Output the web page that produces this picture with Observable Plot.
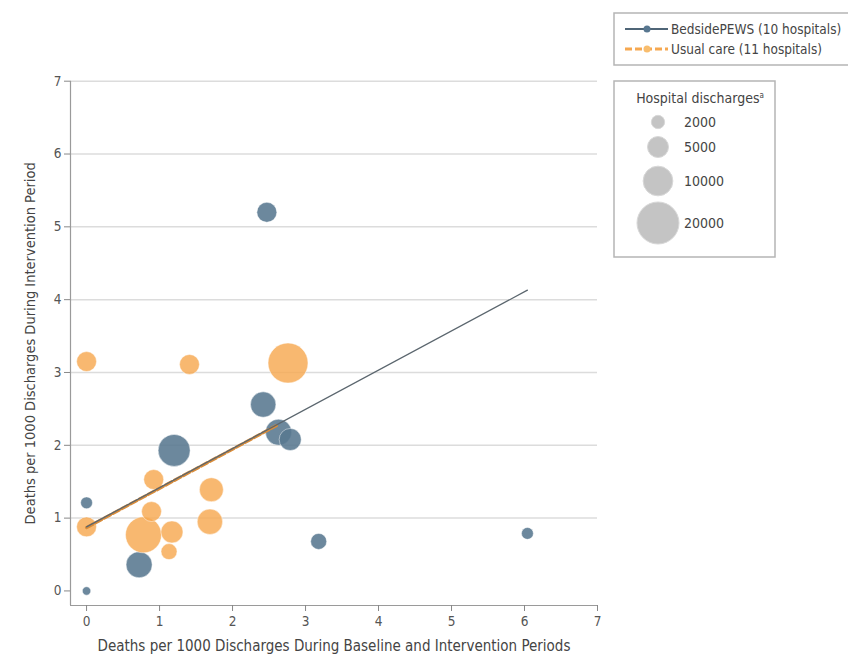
<!DOCTYPE html>
<html>
<head>
<meta charset="utf-8">
<script src="https://cdn.jsdelivr.net/npm/d3@7"></script>
<script src="https://cdn.jsdelivr.net/npm/@observablehq/plot@0.6"></script>
<style>
  html, body { margin: 0; padding: 0; background: #fff; }
  #wrap { position: relative; width: 848px; height: 656px; overflow: hidden; }
  #wrap svg { position: absolute; left: 0; top: 0; }
</style>
</head>
<body>
<div id="wrap"></div>
<script>
// ---- Data ----
const pewsX = [0, 0, 0.72, 1.2, 2.47, 2.42, 2.63, 2.79, 3.18, 6.04];
const pewsY = [0, 1.21, 0.36, 1.93, 5.2, 2.56, 2.18, 2.08, 0.68, 0.79];
const pewsN = [800, 1600, 7700, 11600, 4500, 7300, 7700, 5500, 2900, 1600];

const usualX = [0, 0, 1.41, 2.76, 0.92, 0.78, 0.89, 1.17, 1.13, 1.71, 1.69];
const usualY = [3.15, 0.88, 3.11, 3.13, 1.53, 0.77, 1.09, 0.81, 0.54, 1.39, 0.95];
const usualN = [4500, 4500, 4500, 18100, 4500, 14700, 4500, 5500, 2900, 6500, 7300];

const pewsFitX = [0, 6.04];
const pewsFitY = [0.88, 4.13];
const usualFitX = [0, 2.6];
const usualFitY = [0.87, 2.27];

const axisTicks = [0, 1, 2, 3, 4, 5, 6, 7];
const gridTicks = [1, 2, 3, 4, 5, 6, 7];
const sizeLegendValues = [2000, 5000, 10000, 20000];
const sizeLegendLabels = ["2000", "5000", "10000", "20000"];
const seriesLabels = ["BedsidePEWS (10 hospitals)", "Usual care (11 hospitals)"];

const xLabel = "Deaths per 1000 Discharges During Baseline and Intervention Periods";
const yLabel = "Deaths per 1000 Discharges During Intervention Period";

const xDomain = [-0.22, 7];
const yDomain = [-0.2, 7];
const rDomain = [0, 20000];
const rRange = [0, 21];

const blue = "#587790";
const orange = "#f6a850";
const font = "'DejaVu Sans Condensed', 'DejaVu Sans', sans-serif";

const pews = pewsX.map((x, i) => ({x, y: pewsY[i], n: pewsN[i]}));
const usual = usualX.map((x, i) => ({x, y: usualY[i], n: usualN[i]}));
const pewsFit = pewsFitX.map((x, i) => ({x, y: pewsFitY[i]}));
const usualFit = usualFitX.map((x, i) => ({x, y: usualFitY[i]}));

const chart = Plot.plot({
  width: 848,
  height: 656,
  marginLeft: 70,
  marginRight: 251,
  marginTop: 80.7,
  marginBottom: 51,
  x: {domain: xDomain},
  y: {domain: yDomain},
  r: {type: "sqrt", domain: rDomain, range: rRange},
  style: {fontFamily: font, fontSize: "13px", color: "#444", background: "transparent"},
  marks: [
    Plot.ruleY(gridTicks, {stroke: "#dcdcdc", strokeWidth: 1.5}),
    Plot.ruleX([xDomain[0]], {stroke: "#9a9a9a", strokeWidth: 1.2}),
    Plot.ruleY([yDomain[0]], {stroke: "#9a9a9a", strokeWidth: 1.2}),
    Plot.axisX({ticks: axisTicks, tickSize: 6, tickPadding: 5, stroke: "#888", fill: "#555",
      fontSize: 13.5, label: null}),
    Plot.axisY({ticks: axisTicks, tickSize: 6, tickPadding: 3, stroke: "#888", fill: "#555",
      fontSize: 13.5, label: null}),
    Plot.axisX({ticks: [], tickSize: 0, label: xLabel, labelArrow: "none", labelAnchor: "center",
      labelOffset: 45, fontSize: 15, fill: "#444"}),
    Plot.axisY({ticks: [], tickSize: 0, label: yLabel, labelArrow: "none", labelAnchor: "center",
      labelOffset: 46, fontSize: 14.5, fill: "#444"}),
    Plot.dot(pews, {x: "x", y: "y", r: "n", fill: blue, fillOpacity: 0.88, stroke: "#ffffff", strokeOpacity: 0.45, strokeWidth: 1}),
    Plot.dot(usual, {x: "x", y: "y", r: "n", fill: orange, fillOpacity: 0.82, stroke: "#ffffff", strokeOpacity: 0.45, strokeWidth: 1}),
    Plot.line(usualFit, {x: "x", y: "y", stroke: "#d98c3a", strokeWidth: 3.2, strokeDasharray: "7,3"}),
    Plot.line(pewsFit, {x: "x", y: "y", stroke: "#5b666e", strokeWidth: 1.3})
  ]
});
document.getElementById("wrap").appendChild(chart);

// ---- Legends (overlay) ----
const rScale = d3.scaleSqrt().domain(rDomain).range(rRange);
const svg = d3.select("#wrap").append("svg")
  .attr("width", 848).attr("height", 656)
  .style("font-family", font).style("pointer-events", "none");

// Series legend
const g1 = svg.append("g");
g1.append("rect").attr("x", 614).attr("y", 13).attr("width", 250).attr("height", 52)
  .attr("fill", "none").attr("stroke", "#b5b5b5").attr("stroke-width", 1.5);
const sw = [
  {c: "#4f6577", dash: null, w: 1.8, dot: blue},
  {c: orange, dash: "7,3", w: 3, dot: "#f8bd6e"}
];
seriesLabels.forEach((lab, i) => {
  const yy = 29 + i * 20;
  g1.append("line").attr("x1", 625).attr("x2", 668).attr("y1", yy).attr("y2", yy)
    .attr("stroke", sw[i].c).attr("stroke-width", sw[i].w).attr("stroke-dasharray", sw[i].dash);
  g1.append("circle").attr("cx", 647).attr("cy", yy).attr("r", 3.5).attr("fill", sw[i].dot);
  g1.append("text").attr("x", 671).attr("y", yy).attr("dy", "0.35em")
    .attr("font-size", 13.5).attr("fill", "#444").text(lab);
});

// Size legend
const g2 = svg.append("g");
g2.append("rect").attr("x", 614).attr("y", 81).attr("width", 161).attr("height", 176)
  .attr("fill", "none").attr("stroke", "#b5b5b5").attr("stroke-width", 1.5);
const title = g2.append("text").attr("x", 700).attr("y", 98).attr("dy", "0.35em")
  .attr("text-anchor", "middle").attr("font-size", 14).attr("fill", "#444");
title.append("tspan").text("Hospital discharges");
title.append("tspan").attr("font-size", 8).attr("dy", "-0.6em").text("a");
const legY = [122, 147, 181, 223];
sizeLegendValues.forEach((v, i) => {
  g2.append("circle").attr("cx", 658).attr("cy", legY[i]).attr("r", rScale(v))
    .attr("fill", "#c4c4c4").attr("stroke", "#d8d8d8");
  g2.append("text").attr("x", 684).attr("y", legY[i]).attr("dy", "0.35em")
    .attr("font-size", 14).attr("fill", "#444").text(sizeLegendLabels[i]);
});
</script>
</body>
</html>
